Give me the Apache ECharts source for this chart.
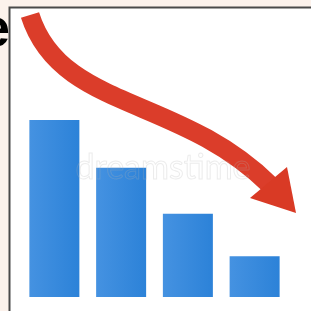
<!DOCTYPE html>
<html>
<head>
    <meta charset="utf-8" />
    <title></title>
    <script src="https://cdn.jsdelivr.net/npm/echarts@6/dist/echarts.min.js"></script>
    <style>
        html, body { margin: 0; padding: 0; background: #fcf2ec; overflow: hidden; }
    </style>
</head>
<body>
    <div id="main" style="width: 311px;height:311px;"></div>
    <script type="text/javascript">
        // bars
        var categories = ['1', '2', '3', '4'];
        var values = [100, 73, 47, 23];
        // arrow: start, two control points, end (0..311 space, y down)
        var arrowX = [30, 60, 179, 270];
        var arrowY = [15, 110, 95, 185];
        // arrow head triangle
        var headX = [250, 287, 296];
        var headY = [198, 167, 213];

        var arrowData = [];
        for (var i = 0; i < arrowX.length; i++) {
            arrowData.push([arrowX[i], arrowY[i]]);
        }
        var headData = [];
        for (var j = 0; j < headX.length; j++) {
            headData.push([headX[j], headY[j]]);
        }

        var myChart = echarts.init(document.getElementById('main'));
        var option = {
            backgroundColor: '#fcf2ec',
            animation: false,
            graphic: [
                {
                    type: 'rect',
                    z: -10,
                    shape: { x: 9.5, y: 7.5, width: 400, height: 400 },
                    style: { fill: '#ffffff', stroke: '#4a4a4a', lineWidth: 2 }
                },
                {
                    type: 'text',
                    x: 10, y: 31,
                    style: {
                        text: 'e',
                        fill: '#000',
                        font: 'bold 54px "Liberation Sans", Arial, sans-serif',
                        align: 'right',
                        verticalAlign: 'middle'
                    }
                },
                {
                    type: 'text',
                    x: 163, y: 168,
                    z: 100,
                    style: {
                        text: 'dreamstime',
                        fill: 'rgba(255,255,255,0)',
                        stroke: 'rgba(180,180,180,0.25)',
                        lineWidth: 1,
                        font: '34px Lato, sans-serif',
                        align: 'center',
                        verticalAlign: 'middle'
                    }
                }
            ],
            grid: [
                { left: 21, right: 23, top: 120, bottom: 14 },
                { left: 0, right: 0, top: 0, bottom: 0 }
            ],
            xAxis: [
                { type: 'category', data: categories, gridIndex: 0, show: false },
                { type: 'value', min: 0, max: 311, gridIndex: 1, show: false }
            ],
            yAxis: [
                { type: 'value', min: 0, max: 100, gridIndex: 0, show: false },
                { type: 'value', min: 0, max: 311, inverse: true, gridIndex: 1, show: false }
            ],
            series: [
                {
                    type: 'bar',
                    xAxisIndex: 0,
                    yAxisIndex: 0,
                    barWidth: 50,
                    data: values,
                    itemStyle: {
                        color: new echarts.graphic.LinearGradient(0, 0, 1, 0, [
                            { offset: 0, color: '#4592e1' },
                            { offset: 1, color: '#2c82d8' }
                        ])
                    }
                },
                {
                    type: 'custom',
                    xAxisIndex: 1,
                    yAxisIndex: 1,
                    data: [0],
                    z: 5,
                    renderItem: function (params, api) {
                        var p = arrowData.map(function (d) { return api.coord(d); });
                        var h = headData.map(function (d) { return api.coord(d); });
                        return {
                            type: 'group',
                            children: [
                                {
                                    type: 'bezierCurve',
                                    shape: {
                                        x1: p[0][0], y1: p[0][1],
                                        cpx1: p[1][0], cpy1: p[1][1],
                                        cpx2: p[2][0], cpy2: p[2][1],
                                        x2: p[3][0], y2: p[3][1]
                                    },
                                    style: { stroke: '#db3d2a', lineWidth: 19, fill: null, lineCap: 'butt' }
                                },
                                {
                                    type: 'polygon',
                                    shape: { points: h },
                                    style: { fill: '#d93a25' }
                                }
                            ]
                        };
                    }
                }
            ]
        };
        myChart.setOption(option);
    </script>
</body>
</html>
